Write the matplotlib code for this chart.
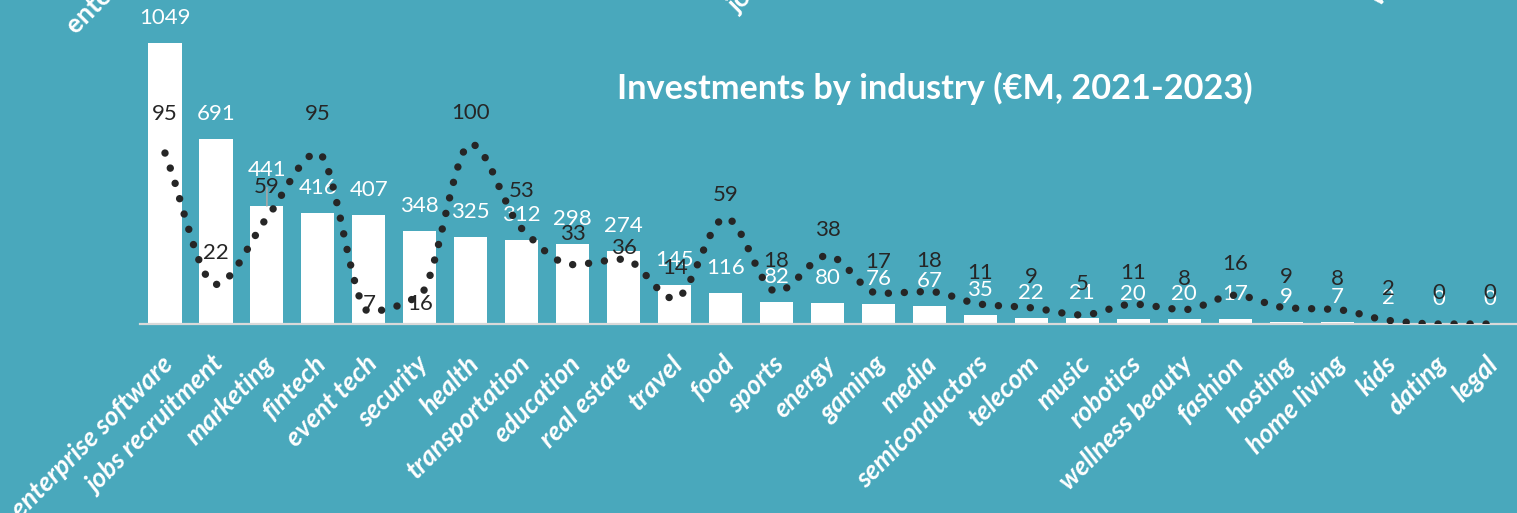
import matplotlib

matplotlib.use("Agg")
import matplotlib.pyplot as plt
import matplotlib.transforms as mtransforms
import numpy as np
from matplotlib.patches import PathPatch
from matplotlib.path import Path

# --- data -----------------------------------------------------------------
industries = [
    "enterprise software", "jobs recruitment", "marketing", "fintech", "event tech",
    "security", "health", "transportation", "education", "real estate", "travel",
    "food", "sports", "energy", "gaming", "media", "semiconductors", "telecom",
    "music", "robotics", "wellness beauty", "fashion", "hosting", "home living",
    "kids", "dating", "legal",
]
invested_meur = [1049, 691, 441, 416, 407, 348, 325, 312, 298, 274, 145, 116, 82, 80,
                 76, 67, 35, 22, 21, 20, 20, 17, 9, 7, 2, 0, 0]
deal_counts = [95, 22, 59, 95, 7, 16, 100, 53, 33, 36, 14, 59, 18, 38, 17, 18, 11,
               9, 5, 11, 8, 16, 9, 8, 2, 0, 0]
title = "Investments by industry (€M, 2021-2023)"
# labels of the chart above, cut off by the top edge
cropped_labels = ["enterprise software", "jobs recruitment", "wellness beauty"]

# --- style ----------------------------------------------------------------
BG = "#49a8bc"
DARK = "#262626"
FONT = "Lato"
W, H, DPI = 1517, 513, 100
px = 72 / DPI  # points per pixel

fig = plt.figure(figsize=(W / DPI, H / DPI), dpi=DPI, facecolor=BG)
ax = fig.add_axes([139.5 / W, 189 / H, 1376 / W, 324 / H])
ax.set_facecolor("none")
ax2 = ax.twinx()

x = np.arange(len(industries))
ax.bar(x, invested_meur, width=0.65, color="white", zorder=2)
ax.set_xlim(-0.5, len(industries) - 0.5)
ax.set_ylim(0, 1209)
ax2.set_ylim(0, 180)

for s in ["top", "left", "right"]:
    ax.spines[s].set_visible(False)
    ax2.spines[s].set_visible(False)
ax2.spines["bottom"].set_visible(False)
ax.spines["bottom"].set_color("#d9d9d9")
ax.spines["bottom"].set_linewidth(1.6)
ax.spines["bottom"].set_zorder(3)
ax.set_yticks([])
ax2.set_yticks([])

# smoothed dotted line: cubic Bezier through the points, monotone tangents
y = np.asarray(deal_counts, dtype=float)
d = np.diff(y)
m = np.zeros_like(y)
m[0], m[-1] = d[0], d[-1]
for i in range(1, len(y) - 1):
    if d[i - 1] * d[i] > 0:
        m[i] = 2 / (1 / d[i - 1] + 1 / d[i])
verts, codes = [(x[0], y[0])], [Path.MOVETO]
for i in range(len(y) - 1):
    verts += [(x[i] + 1 / 3, y[i] + m[i] / 3), (x[i + 1] - 1 / 3, y[i + 1] - m[i + 1] / 3),
              (x[i + 1], y[i + 1])]
    codes += [Path.CURVE4] * 3
ax2.add_patch(PathPatch(Path(verts, codes), facecolor="none", edgecolor=DARK,
                        lw=7.4 * px, linestyle=(0, (0.01, 2.15)),
                        capstyle="round", zorder=4))

# value labels (offsets in pixels from data point to label digit centre)
bar_off = {2: 38}
line_off = {0: 41, 3: 41, 4: 9, 5: -7, 7: 40, 9: 13, 11: 25, 13: 28}
for i, v in enumerate(invested_meur):
    ax.annotate(str(v), (i, v), xytext=(0, (bar_off.get(i, 27) - 8) * px),
                textcoords="offset points", ha="center", va="baseline",
                color="white", fontsize=16, family=FONT, zorder=5)
for i, v in enumerate(deal_counts):
    ax2.annotate(str(v), (i, v), xytext=(0, (line_off.get(i, 33) - 8) * px),
                 textcoords="offset points", ha="center", va="baseline",
                 color=DARK, fontsize=16, family=FONT, zorder=6)

# leader line under the moved "59" label of marketing
ax2.annotate("", (2, deal_counts[2]), xytext=(0, 30 * px), textcoords="offset points",
             arrowprops=dict(arrowstyle="-", color="#a6a6a6", lw=1.2,
                             shrinkA=0, shrinkB=12 * px), zorder=3)

# category labels
ax.set_xticks(x)
ax.set_xticklabels(industries, rotation=45, ha="right", va="center",
                   rotation_mode="anchor", color="white", fontsize=19,
                   family=FONT, fontweight="bold", fontstyle="italic")
ax.tick_params(axis="x", length=0, pad=0)
shift = mtransforms.ScaledTranslation(4 / DPI, -36 / DPI, fig.dpi_scale_trans)
for lab in ax.get_xticklabels():
    lab.set_transform(lab.get_transform() + shift)

fig.text(935 / W, 1 - 88 / H, title, ha="center", va="center", color="white",
         fontsize=24.7, fontweight="bold", family=FONT)

for txt, (lx, ly) in zip(cropped_labels, [(76, 35), (738, 14), (1379, 7)]):
    fig.text(lx / W, 1 - ly / H, txt, rotation=45, rotation_mode="anchor",
             ha="left", va="baseline", color="white", fontsize=19,
             fontweight="bold", family=FONT)

fig.savefig("out.png", dpi=DPI, facecolor=BG)
